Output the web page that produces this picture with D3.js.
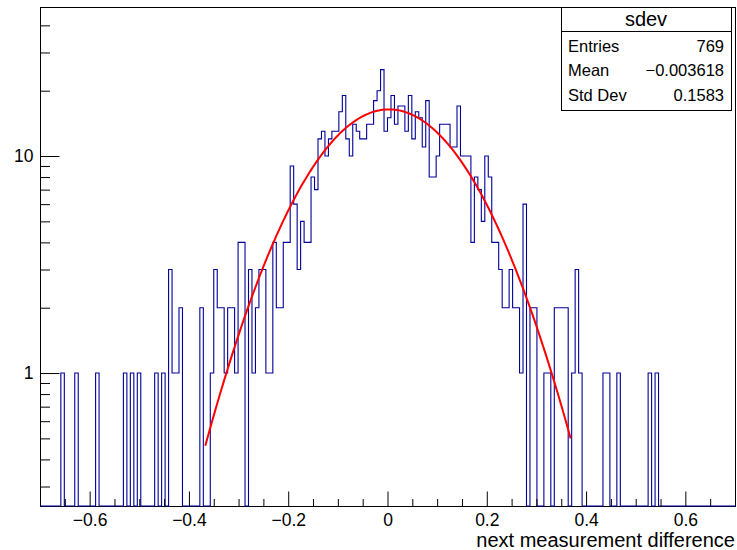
<!DOCTYPE html>
<html><head><meta charset="utf-8">
<script src="https://cdn.jsdelivr.net/npm/d3@7"></script>
<style>body{margin:0;background:#fff}svg{display:block}text{font-family:"Liberation Sans",Arial,Helvetica,sans-serif}</style>
</head><body>
<svg id="c" width="737" height="550"></svg>
<script>
// ---- data ----
const xRange = [-0.7, 0.7];
const nBins = 200;
const counts = [
0,0,0,0,0,0,1,0,0,0, 1,0,0,0,0,0,1,0,0,0,
0,0,0,0,1,0,1,0,1,0, 0,0,0,1,0,1,0,3,1,1,
2,0,0,0,0,0,2,0,0,1, 3,2,2,1,2,2,1,4,4,0,
3,1,2,3,3,1,1,4,2,2, 4,4,9,6,3,5,4,4,8,7,
12,13,10,12,13,13,16,19,12,10, 14,13,12,12,14,14,18,20,25,13,
15,19,14,17,17,13,19,12,16,15, 11,18,8,8,10,14,14,14,11,11,
17,10,10,10,4,8,7,5,10,8, 4,4,3,2,2,3,2,2,1,6,
0,2,2,0,0,1,1,0,2,2, 2,2,0,1,3,1,0,0,0,0,
0,0,1,1,0,0,1,0,0,0, 0,0,0,0,0,1,0,1,0,0,
0,0,0,0,0,0,0,0,0,0, 0,0,0,0,0,0,0,0,0,0
];
const xMajorTicks = [-0.6, -0.4, -0.2, 0, 0.2, 0.4, 0.6];
const xTickLabels = ["\u22120.6", "\u22120.4", "\u22120.2", "0", "0.2", "0.4", "0.6"];
const xMinorTicks = [-0.65,-0.55,-0.5,-0.45,-0.35,-0.3,-0.25,-0.15,-0.1,-0.05,0.05,0.1,0.15,0.25,0.3,0.35,0.45,0.5,0.55,0.65];
const yMajorTicks = [1, 10];
const yTickLabels = ["1", "10"];
const yMinorTicks = [0.3,0.4,0.5,0.6,0.7,0.8,0.9,2,3,4,5,6,7,8,9,20,30,40];
const yDomain = [0.244, 48.6];
const fitAmp = [16.4];
const fitMean = [0.003];
const fitSigma = [0.1385];
const fitRange = [-0.367, 0.369];
const statsTitle = "sdev";
const statsLabels = ["Entries", "Mean", "Std Dev"];
const statsValues = ["769", "\u22120.003618", "0.1583"];
const xTitle = "next measurement difference";

// ---- layout ----
const L = 40, R = 735, T = 7, B = 506;
const svg = d3.select("#c");
const x = d3.scaleLinear().domain(xRange).range([L, R]);
const y = d3.scaleLog().domain(yDomain).range([B, T]);
const binW = (xRange[1] - xRange[0]) / nBins;

// frame
svg.append("rect").attr("x", L + 0.5).attr("y", T + 0.5).attr("width", R - L).attr("height", B - T)
  .attr("fill", "#fff").attr("stroke", "#000").attr("stroke-width", 1);

// histogram step outline
const pts = [];
const yv = v => v > 0 ? y(Math.max(v, yDomain[0])) : B;
pts.push([x(xRange[0]), B]);
counts.forEach((c, i) => {
  const x0 = x(xRange[0] + i * binW), x1 = x(xRange[0] + (i + 1) * binW);
  pts.push([x0, yv(c)]); pts.push([x1, yv(c)]);
});
pts.push([x(xRange[1]), B]);
svg.append("path").attr("d", d3.line()(pts)).attr("fill", "none")
  .attr("stroke", "#000099").attr("stroke-width", 1.1);

// fit curve
const fitPts = d3.range(0, 201).map(j => {
  const xv = fitRange[0] + (fitRange[1] - fitRange[0]) * j / 200;
  const v = fitAmp[0] * Math.exp(-0.5 * Math.pow((xv - fitMean[0]) / fitSigma[0], 2));
  return [x(xv), y(v)];
});
svg.append("path").attr("d", d3.line()(fitPts)).attr("fill", "none")
  .attr("stroke", "#ff0000").attr("stroke-width", 2);

// x axis
const gx = svg.append("g").attr("transform", `translate(0,${B + 0.5})`);
gx.call(d3.axisBottom(x).tickValues(xMinorTicks).tickSize(-7.5).tickFormat(""));
const gx2 = svg.append("g").attr("transform", `translate(0,${B + 0.5})`);
gx2.call(d3.axisBottom(x).tickValues(xMajorTicks).tickSize(-15).tickSizeOuter(0).tickPadding(7)
  .tickFormat((d, i) => xTickLabels[i]));
[gx, gx2].forEach(g => { g.select(".domain").remove(); g.selectAll("line").attr("stroke", "#000"); });
gx2.selectAll("text").attr("font-size", 17.5).attr("fill", "#000").attr("font-family", null);

// y axis
const gy = svg.append("g").attr("transform", `translate(${L + 0.5},0)`);
gy.call(d3.axisLeft(y).tickValues(yMinorTicks).tickSize(-9.5).tickFormat(""));
const gy2 = svg.append("g").attr("transform", `translate(${L + 0.5},0)`);
gy2.call(d3.axisLeft(y).tickValues(yMajorTicks).tickSize(-19).tickSizeOuter(0).tickPadding(7)
  .tickFormat((d, i) => yTickLabels[i]));
[gy, gy2].forEach(g => { g.select(".domain").remove(); g.selectAll("line").attr("stroke", "#000"); });
gy2.selectAll("text").attr("font-size", 17.5).attr("fill", "#000").attr("font-family", null);

// x title
svg.append("text").attr("x", R).attr("y", 547).attr("text-anchor", "end")
  .attr("font-size", 20).attr("fill", "#000").text(xTitle);

// stats box
const sb = {x0: 561, x1: 731, y0: 7, y1: 110, sep: 31};
const g = svg.append("g");
g.append("rect").attr("x", sb.x0 + 0.5).attr("y", sb.y0 + 0.5).attr("width", sb.x1 - sb.x0).attr("height", sb.y1 - sb.y0)
  .attr("fill", "#fff").attr("stroke", "#000");
g.append("line").attr("x1", sb.x0 + 0.5).attr("x2", sb.x1 + 0.5).attr("y1", sb.sep + 0.5).attr("y2", sb.sep + 0.5).attr("stroke", "#000");
g.append("text").attr("x", (sb.x0 + sb.x1) / 2).attr("y", 26).attr("text-anchor", "middle")
  .attr("font-size", 20).text(statsTitle);
const rowY = [52, 76, 101];
statsLabels.forEach((lab, i) => {
  g.append("text").attr("x", 568).attr("y", rowY[i]).attr("font-size", 16.5).text(lab);
  g.append("text").attr("x", 724).attr("y", rowY[i]).attr("text-anchor", "end").attr("font-size", 16.5).text(statsValues[i]);
});
</script>
</body></html>
